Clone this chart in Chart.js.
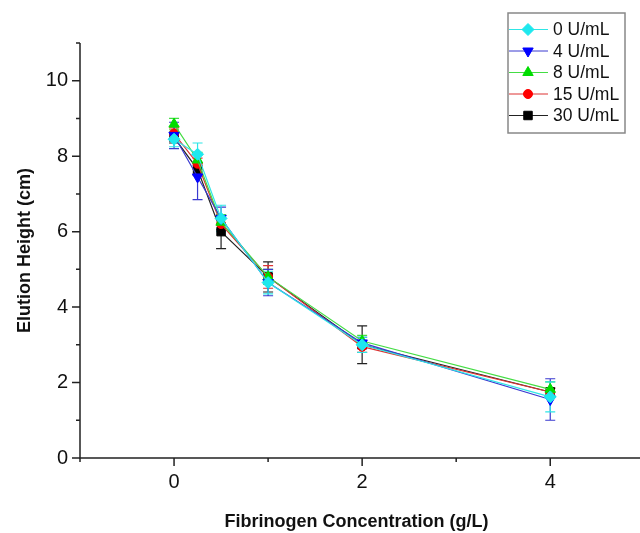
<!DOCTYPE html>
<html>
<head>
<meta charset="utf-8">
<script src="https://cdn.jsdelivr.net/npm/chart.js"></script>
<style>
  html, body { margin: 0; padding: 0; background: #fff; }
  #wrap { width: 640px; height: 533px; }
</style>
</head>
<body>
<div id="wrap"><canvas id="elutionChart"></canvas></div>
<script>
const FONT = "'Liberation Sans', Arial, sans-serif";

// fibrinogen concentration (g/L)
const concentrations = [0, 0.25, 0.5, 1, 2, 4];
const seriesLabels = ['0 U/mL', '4 U/mL', '8 U/mL', '15 U/mL', '30 U/mL'];

// elution height (cm)
const height0 = [8.45, 8.05, 6.35, 4.65, 3.0, 1.62];
const height4 = [8.55, 7.45, 6.35, 4.65, 3.05, 1.55];
const height8 = [8.85, 7.9, 6.25, 4.8, 3.1, 1.82];
const height15 = [8.6, 7.8, 6.2, 4.8, 2.95, 1.75];
const height30 = [8.5, 7.65, 6.0, 4.8, 3.0, 1.75];

// error (+/-)
const err0 = [0.2, 0.3, 0.35, 0.3, 0.2, 0.4];
const err4 = [0.35, 0.6, 0.3, 0.35, 0.15, 0.55];
const err8 = [0.15, 0.2, 0.2, 0.2, 0.15, 0.2];
const err15 = [0.15, 0.15, 0.15, 0.3, 0.15, 0.1];
const err30 = [0.15, 0.15, 0.45, 0.4, 0.5, 0.1];

const xTicks = [0, 2, 4];
const xMinorTicks = [-1, 1, 3];
const yTicks = [0, 2, 4, 6, 8, 10];
const yMinorTicks = [1, 3, 5, 7, 9, 11];

function makeSet(label, values, errors, lineColor, markColor, style, radius, rotation) {
  return {
    label: label,
    data: concentrations.map((c, i) => ({ x: c, y: values[i] })),
    errors: errors,
    borderColor: lineColor,
    backgroundColor: markColor,
    pointBackgroundColor: markColor,
    pointBorderColor: markColor,
    pointBorderWidth: 1,
    pointStyle: style,
    pointRadius: radius,
    pointRotation: rotation || 0,
    borderWidth: 1.2,
    tension: 0,
    fill: false
  };
}

const datasets = [
  makeSet(seriesLabels[0], height0, err0, '#2ee6e6', '#1ee8ee', 'rectRot', 6),
  makeSet(seriesLabels[1], height4, err4, '#3a3ad0', '#0000ff', 'triangle', 6, 180),
  makeSet(seriesLabels[2], height8, err8, '#44dd44', '#00dd00', 'triangle', 6),
  makeSet(seriesLabels[3], height15, err15, '#dd3333', '#ff0000', 'circle', 4.5),
  makeSet(seriesLabels[4], height30, err30, '#222222', '#000000', 'rect', 6)
];

// error bars, drawn under the markers
const errorBars = {
  id: 'errorBars',
  beforeDatasetsDraw(chart) {
    const ctx = chart.ctx;
    const xs = chart.scales.x, ys = chart.scales.y;
    ctx.save();
    for (let d = chart.data.datasets.length - 1; d >= 0; d--) {
      const ds = chart.data.datasets[d];
      ctx.strokeStyle = ds.borderColor;
      ctx.lineWidth = 1.2;
      ds.data.forEach((p, i) => {
        const e = ds.errors[i];
        const px = xs.getPixelForValue(p.x);
        const top = ys.getPixelForValue(p.y + e);
        const bot = ys.getPixelForValue(p.y - e);
        ctx.beginPath();
        ctx.moveTo(px, top); ctx.lineTo(px, bot);
        ctx.moveTo(px - 5, top); ctx.lineTo(px + 5, top);
        ctx.moveTo(px - 5, bot); ctx.lineTo(px + 5, bot);
        ctx.stroke();
      });
    }
    ctx.restore();
  }
};

// axis lines and tick marks like the original (outward, with minors)
const axisTicks = {
  id: 'axisTicks',
  afterDraw(chart) {
    const ctx = chart.ctx;
    const a = chart.chartArea;
    const xs = chart.scales.x, ys = chart.scales.y;
    ctx.save();
    ctx.strokeStyle = '#222';
    ctx.lineWidth = 1.5;
    ctx.beginPath();
    ctx.moveTo(a.left, a.top); ctx.lineTo(a.left, a.bottom);
    ctx.lineTo(chart.width, a.bottom);
    ctx.stroke();
    ctx.beginPath();
    xTicks.forEach(v => { const px = xs.getPixelForValue(v); ctx.moveTo(px, a.bottom); ctx.lineTo(px, a.bottom + 8); });
    xMinorTicks.forEach(v => { const px = xs.getPixelForValue(v); ctx.moveTo(px, a.bottom); ctx.lineTo(px, a.bottom + 4); });
    yTicks.forEach(v => { const py = ys.getPixelForValue(v); ctx.moveTo(a.left, py); ctx.lineTo(a.left - 8, py); });
    yMinorTicks.forEach(v => { const py = ys.getPixelForValue(v); ctx.moveTo(a.left, py); ctx.lineTo(a.left - 4, py); });
    ctx.stroke();
    ctx.restore();
  }
};

// boxed legend with a line through each marker
const boxLegend = {
  id: 'boxLegend',
  afterDraw(chart) {
    const ctx = chart.ctx;
    const left = 508, top = 13, w = 117, h = 120;
    ctx.save();
    ctx.fillStyle = '#fff';
    ctx.fillRect(left, top, w, h);
    ctx.strokeStyle = '#888';
    ctx.lineWidth = 1.5;
    ctx.strokeRect(left, top, w, h);
    ctx.font = '17.5px ' + FONT;
    ctx.textBaseline = 'middle';
    chart.data.datasets.forEach((ds, i) => {
      const y = top + 16.5 + i * 21.5;
      ctx.strokeStyle = ds.borderColor;
      ctx.lineWidth = 1;
      ctx.beginPath();
      ctx.moveTo(left + 1, y); ctx.lineTo(left + 40, y);
      ctx.stroke();
      ctx.fillStyle = ds.pointBackgroundColor;
      ctx.strokeStyle = ds.pointBorderColor;
      Chart.helpers.drawPoint(ctx, {
        pointStyle: ds.pointStyle,
        radius: ds.pointRadius,
        rotation: ds.pointRotation,
        borderWidth: 1
      }, left + 20, y);
      ctx.fillStyle = '#111';
      ctx.fillText(ds.label, left + 45, y + 1);
    });
    ctx.restore();
  }
};

new Chart(document.getElementById('elutionChart'), {
  type: 'line',
  data: { datasets: datasets },
  plugins: [errorBars, axisTicks, boxLegend],
  options: {
    responsive: true,
    maintainAspectRatio: false,
    animation: false,
    events: [],
    layout: { padding: { top: 43, right: 0, left: 0, bottom: 0 } },
    plugins: {
      legend: { display: false },
      tooltip: { enabled: false }
    },
    scales: {
      x: {
        type: 'linear',
        min: -1,
        max: 4.88,
        afterBuildTicks: s => { s.ticks = xTicks.map(v => ({ value: v })); },
        afterFit: s => { s.height = 75; },
        grid: { display: false, drawTicks: false },
        border: { display: false },
        ticks: { color: '#111', font: { family: FONT, size: 20 }, padding: 12, maxRotation: 0 },
        title: {
          display: true,
          text: 'Fibrinogen Concentration (g/L)',
          color: '#111',
          font: { family: FONT, size: 18, weight: 'bold' },
          padding: { top: 0, bottom: 0 }
        }
      },
      y: {
        min: 0,
        max: 11,
        afterBuildTicks: s => { s.ticks = yTicks.map(v => ({ value: v })); },
        afterFit: s => { s.width = 80; },
        grid: { display: false, drawTicks: false },
        border: { display: false },
        ticks: { color: '#111', font: { family: FONT, size: 20 }, padding: 12 },
        title: {
          display: true,
          text: 'Elution Height (cm)',
          color: '#111',
          font: { family: FONT, size: 18, weight: 'bold' },
          padding: { top: 14, bottom: 0 }
        }
      }
    }
  }
});
</script>
</body>
</html>
